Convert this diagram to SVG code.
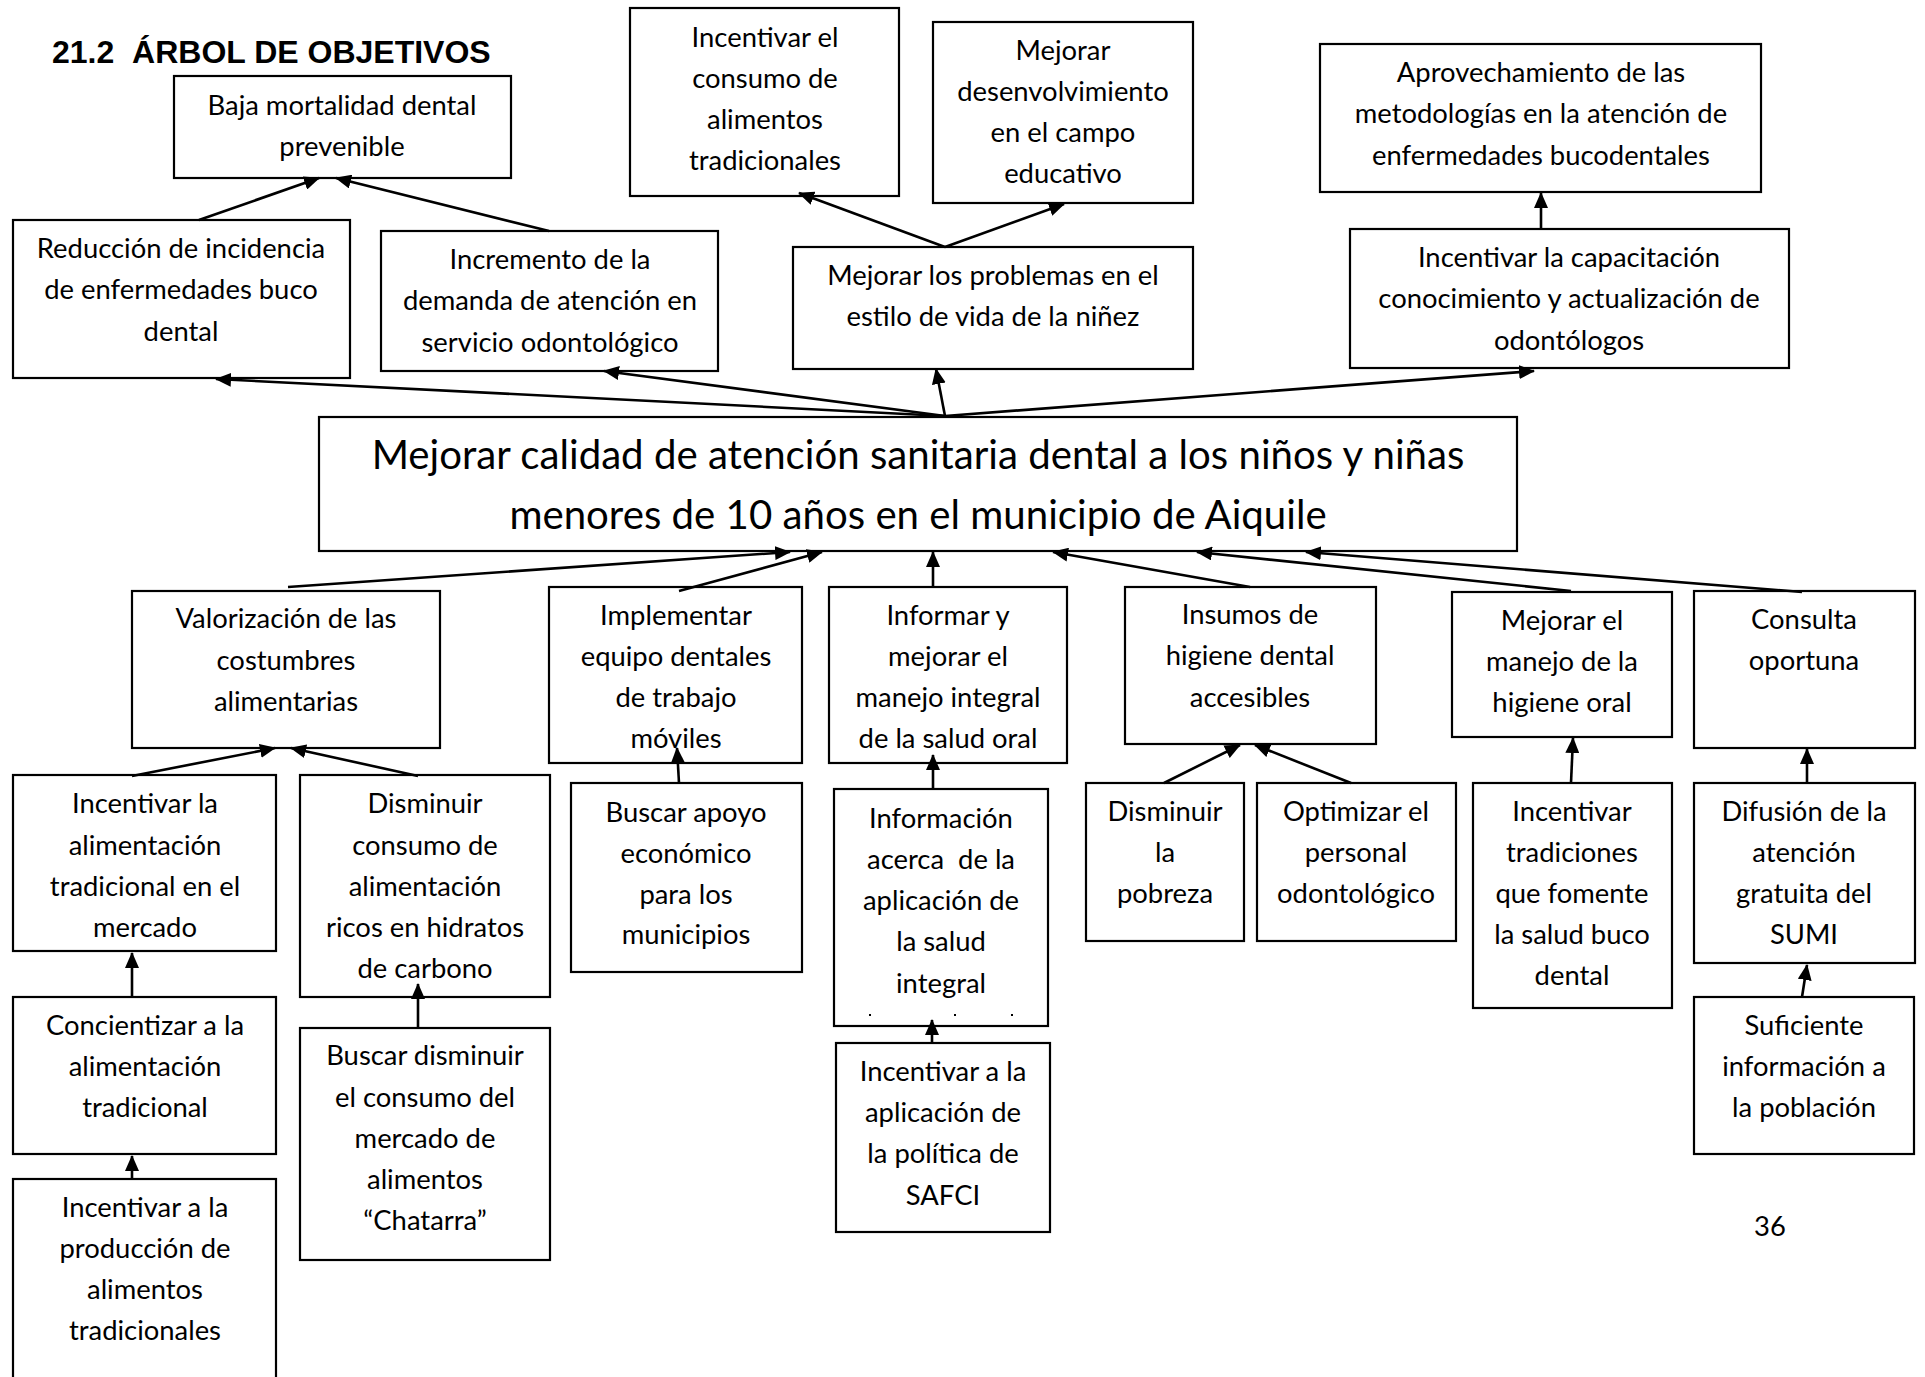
<svg xmlns="http://www.w3.org/2000/svg" width="1925" height="1377" viewBox="0 0 1925 1377">
<defs>
<style>
.b{fill:#fff;stroke:#000;stroke-width:2.2}
.t{font-family:Lato,"Liberation Sans",sans-serif;font-size:27.4px;text-anchor:middle;fill:#000}
.big{font-size:40.2px}
.c{stroke:#000;stroke-width:2.6;fill:none;marker-end:url(#ah)}
.h{font-family:"Liberation Sans",Arial,sans-serif;font-weight:bold;font-size:32px;fill:#000}
</style>
<marker id="ah" markerUnits="userSpaceOnUse" markerWidth="17" markerHeight="14" refX="15" refY="7" orient="auto"><path d="M0,0 L16,7 L0,14 z" fill="#000"/></marker>
</defs>
<rect width="1925" height="1377" fill="#fff"/>
<text class="h" x="52" y="63" xml:space="preserve">21.2  ÁRBOL DE OBJETIVOS</text>

<g id="baja"><rect class="b" x="174" y="76" width="337" height="102"/><text class="t"><tspan x="342" y="115">Baja mortalidad dental</tspan><tspan x="342" y="156">prevenible</tspan></text></g>
<g id="reduccion"><rect class="b" x="13" y="220" width="337" height="158"/><text class="t"><tspan x="181" y="258">Reducción de incidencia</tspan><tspan x="181" y="299">de enfermedades buco</tspan><tspan x="181" y="341">dental</tspan></text></g>
<g id="incremento"><rect class="b" x="381" y="231" width="337" height="140"/><text class="t"><tspan x="550" y="269">Incremento de la</tspan><tspan x="550" y="310">demanda de atención en</tspan><tspan x="550" y="352">servicio odontológico</tspan></text></g>
<g id="inc-consumo"><rect class="b" x="630" y="8" width="269" height="188"/><text class="t"><tspan x="765" y="47">Incentivar el</tspan><tspan x="765" y="88">consumo de</tspan><tspan x="765" y="129">alimentos</tspan><tspan x="765" y="170">tradicionales</tspan></text></g>
<g id="desenvolvimiento"><rect class="b" x="933" y="22" width="260" height="181"/><text class="t"><tspan x="1063" y="60">Mejorar</tspan><tspan x="1063" y="101">desenvolvimiento</tspan><tspan x="1063" y="142">en el campo</tspan><tspan x="1063" y="183">educativo</tspan></text></g>
<g id="problemas"><rect class="b" x="793" y="247" width="400" height="122"/><text class="t"><tspan x="993" y="285">Mejorar los problemas en el</tspan><tspan x="993" y="326">estilo de vida de la niñez</tspan></text></g>
<g id="aprovechamiento"><rect class="b" x="1320" y="44" width="441" height="148"/><text class="t"><tspan x="1541" y="82">Aprovechamiento de las</tspan><tspan x="1541" y="123">metodologías en la atención de</tspan><tspan x="1541" y="165">enfermedades bucodentales</tspan></text></g>
<g id="capacitacion"><rect class="b" x="1350" y="229" width="439" height="139"/><text class="t"><tspan x="1569" y="267">Incentivar la capacitación</tspan><tspan x="1569" y="308">conocimiento y actualización de</tspan><tspan x="1569" y="350">odontólogos</tspan></text></g>
<g id="central"><rect class="b" x="319" y="417" width="1198" height="134"/><text class="t big"><tspan x="918" y="469">Mejorar calidad de atención sanitaria dental a los niños y niñas</tspan><tspan x="918" y="529">menores de 10 años en el municipio de Aiquile</tspan></text></g>

<g id="valorizacion"><rect class="b" x="132" y="591" width="308" height="157"/><text class="t"><tspan x="286" y="628">Valorización de las</tspan><tspan x="286" y="670">costumbres</tspan><tspan x="286" y="711">alimentarias</tspan></text></g>
<g id="inc-alimentacion"><rect class="b" x="13" y="775" width="263" height="176"/><text class="t"><tspan x="145" y="813">Incentivar la</tspan><tspan x="145" y="855">alimentación</tspan><tspan x="145" y="896">tradicional en el</tspan><tspan x="145" y="937">mercado</tspan></text></g>
<g id="disminuir-consumo"><rect class="b" x="300" y="775" width="250" height="222"/><text class="t"><tspan x="425" y="813">Disminuir</tspan><tspan x="425" y="855">consumo de</tspan><tspan x="425" y="896">alimentación</tspan><tspan x="425" y="937">ricos en hidratos</tspan><tspan x="425" y="978">de carbono</tspan></text></g>
<g id="concientizar"><rect class="b" x="13" y="997" width="263" height="157"/><text class="t"><tspan x="145" y="1035">Concientizar a la</tspan><tspan x="145" y="1076">alimentación</tspan><tspan x="145" y="1117">tradicional</tspan></text></g>
<g id="produccion"><rect class="b" x="13" y="1179" width="263" height="230"/><text class="t"><tspan x="145" y="1217">Incentivar a la</tspan><tspan x="145" y="1258">producción de</tspan><tspan x="145" y="1299">alimentos</tspan><tspan x="145" y="1340">tradicionales</tspan></text></g>
<g id="buscar-disminuir"><rect class="b" x="300" y="1028" width="250" height="232"/><text class="t"><tspan x="425" y="1065">Buscar disminuir</tspan><tspan x="425" y="1107">el consumo del</tspan><tspan x="425" y="1148">mercado de</tspan><tspan x="425" y="1189">alimentos</tspan><tspan x="425" y="1230">“Chatarra”</tspan></text></g>
<g id="implementar"><rect class="b" x="549" y="587" width="253" height="176"/><text class="t"><tspan x="676" y="625">Implementar</tspan><tspan x="676" y="666">equipo dentales</tspan><tspan x="676" y="707">de trabajo</tspan><tspan x="676" y="748">móviles</tspan></text></g>
<g id="informar"><rect class="b" x="829" y="587" width="238" height="176"/><text class="t"><tspan x="948" y="625">Informar y</tspan><tspan x="948" y="666">mejorar el</tspan><tspan x="948" y="707">manejo integral</tspan><tspan x="948" y="748">de la salud oral</tspan></text></g>
<g id="buscar-apoyo"><rect class="b" x="571" y="783" width="231" height="189"/><text class="t"><tspan x="686" y="822">Buscar apoyo</tspan><tspan x="686" y="863">económico</tspan><tspan x="686" y="904">para los</tspan><tspan x="686" y="944">municipios</tspan></text></g>
<g id="informacion"><rect class="b" x="834" y="789" width="214" height="237"/><text class="t" xml:space="preserve"><tspan x="941" y="828">Información</tspan><tspan x="941" y="869">acerca  de la</tspan><tspan x="941" y="910">aplicación de</tspan><tspan x="941" y="951">la salud</tspan><tspan x="941" y="993">integral</tspan></text><rect x="869" y="1014" width="2" height="2"/><rect x="954" y="1014" width="2" height="2"/><rect x="1011" y="1014" width="2" height="2"/></g>
<g id="aplicacion"><rect class="b" x="836" y="1043" width="214" height="189"/><text class="t"><tspan x="943" y="1081">Incentivar a la</tspan><tspan x="943" y="1122">aplicación de</tspan><tspan x="943" y="1163">la política de</tspan><tspan x="943" y="1205">SAFCI</tspan></text></g>
<g id="insumos"><rect class="b" x="1125" y="587" width="251" height="157"/><text class="t"><tspan x="1250" y="624">Insumos de</tspan><tspan x="1250" y="665">higiene dental</tspan><tspan x="1250" y="707">accesibles</tspan></text></g>
<g id="mejorar-manejo"><rect class="b" x="1452" y="592" width="220" height="145"/><text class="t"><tspan x="1562" y="630">Mejorar el</tspan><tspan x="1562" y="671">manejo de la</tspan><tspan x="1562" y="712">higiene oral</tspan></text></g>
<g id="consulta"><rect class="b" x="1694" y="591" width="221" height="157"/><text class="t"><tspan x="1804" y="629">Consulta</tspan><tspan x="1804" y="670">oportuna</tspan></text></g>
<g id="pobreza"><rect class="b" x="1086" y="783" width="158" height="158"/><text class="t"><tspan x="1165" y="821">Disminuir</tspan><tspan x="1165" y="862">la</tspan><tspan x="1165" y="903">pobreza</tspan></text></g>
<g id="optimizar"><rect class="b" x="1257" y="783" width="199" height="158"/><text class="t"><tspan x="1356" y="821">Optimizar el</tspan><tspan x="1356" y="862">personal</tspan><tspan x="1356" y="903">odontológico</tspan></text></g>
<g id="tradiciones"><rect class="b" x="1473" y="783" width="199" height="225"/><text class="t"><tspan x="1572" y="821">Incentivar</tspan><tspan x="1572" y="862">tradiciones</tspan><tspan x="1572" y="903">que fomente</tspan><tspan x="1572" y="944">la salud buco</tspan><tspan x="1572" y="985">dental</tspan></text></g>
<g id="difusion"><rect class="b" x="1694" y="783" width="221" height="180"/><text class="t"><tspan x="1804" y="821">Difusión de la</tspan><tspan x="1804" y="862">atención</tspan><tspan x="1804" y="903">gratuita del</tspan><tspan x="1804" y="944">SUMI</tspan></text></g>
<g id="suficiente"><rect class="b" x="1694" y="997" width="220" height="157"/><text class="t"><tspan x="1804" y="1035">Suficiente</tspan><tspan x="1804" y="1076">información a</tspan><tspan x="1804" y="1117">la población</tspan></text></g>

<g id="connectors">
<line class="c" x1="199" y1="220" x2="319" y2="178"/>
<line class="c" x1="549" y1="231" x2="336" y2="178"/>
<line class="c" x1="945" y1="416" x2="216" y2="379"/>
<line class="c" x1="945" y1="416" x2="604" y2="371"/>
<line class="c" x1="945" y1="416" x2="936" y2="369"/>
<line class="c" x1="945" y1="416" x2="1534" y2="371"/>
<line class="c" x1="945" y1="247" x2="799" y2="193"/>
<line class="c" x1="945" y1="247" x2="1064" y2="204"/>
<line class="c" x1="1541" y1="229" x2="1541" y2="193"/>
<line class="c" x1="288" y1="587" x2="790" y2="552"/>
<line class="c" x1="679" y1="591" x2="822" y2="552"/>
<line class="c" x1="933" y1="587" x2="933" y2="552"/>
<line class="c" x1="1250" y1="587" x2="1053" y2="552"/>
<line class="c" x1="1571" y1="591" x2="1197" y2="552"/>
<line class="c" x1="1802" y1="592" x2="1306" y2="552"/>
<line class="c" x1="132" y1="776" x2="275" y2="748"/>
<line class="c" x1="418" y1="776" x2="291" y2="748"/>
<line class="c" x1="132" y1="997" x2="132" y2="953"/>
<line class="c" x1="132" y1="1179" x2="132" y2="1156"/>
<line class="c" x1="418" y1="1028" x2="418" y2="984"/>
<line class="c" x1="679" y1="783" x2="677" y2="748"/>
<line class="c" x1="933" y1="790" x2="933" y2="755"/>
<line class="c" x1="932" y1="1043" x2="932" y2="1020"/>
<line class="c" x1="1164" y1="783" x2="1240" y2="745"/>
<line class="c" x1="1351" y1="783" x2="1255" y2="745"/>
<line class="c" x1="1571" y1="783" x2="1573" y2="738"/>
<line class="c" x1="1807" y1="783" x2="1807" y2="749"/>
<line class="c" x1="1802" y1="997" x2="1807" y2="965"/>
</g>
<text class="t" x="1770" y="1236">36</text>
</svg>
